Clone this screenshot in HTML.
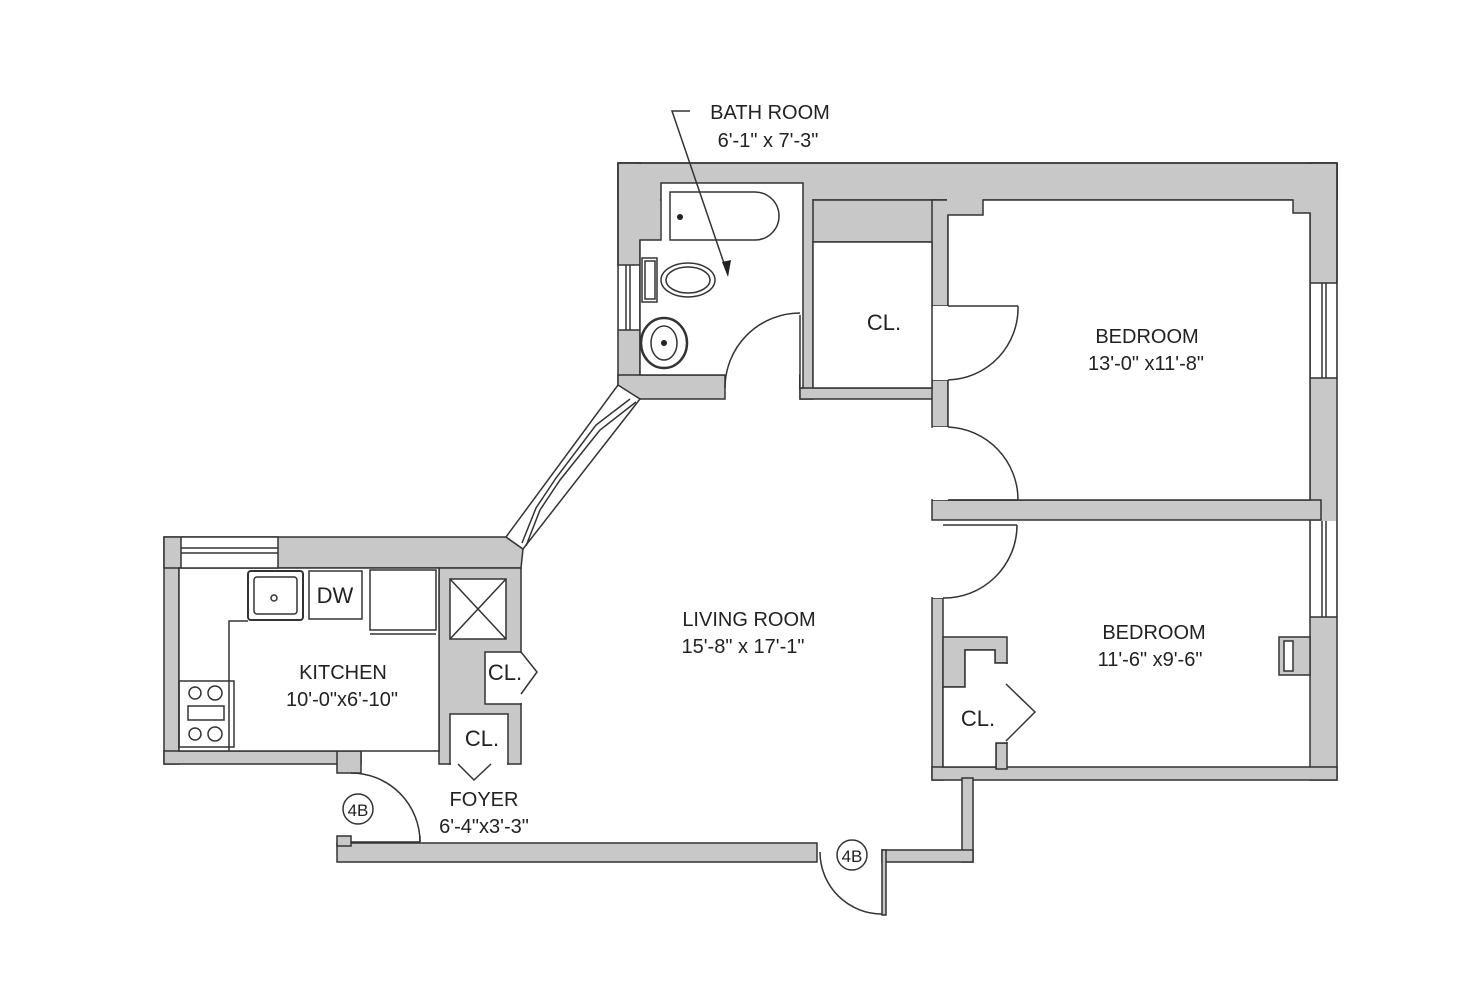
<!DOCTYPE html>
<html><head><meta charset="utf-8"><style>
html,body{margin:0;padding:0;background:#fff;}
svg{display:block;}
text{font-family:"Liberation Sans",Arial,sans-serif;fill:#222;}
</style></head><body>
<svg width="1457" height="1000" viewBox="0 0 1457 1000" xmlns="http://www.w3.org/2000/svg">
<g fill="#c8c8c8" stroke="#333" stroke-width="1.5">
<rect x="618" y="163" width="719" height="37"/>
<rect x="618" y="163" width="22" height="236"/>
<rect x="1310" y="163" width="27" height="617"/>
<rect x="618" y="375" width="107" height="24"/>
<rect x="800" y="200" width="148" height="42"/>
<rect x="800" y="183" width="13" height="216"/>
<rect x="800" y="388" width="148" height="11"/>
<rect x="932" y="200" width="16" height="106"/>
<rect x="932" y="380" width="16" height="47"/>
<rect x="932" y="500" width="389" height="20"/>
<rect x="932" y="598" width="11" height="182"/>
<rect x="932" y="767" width="405" height="13"/>
<rect x="962" y="778" width="11" height="84"/>
<rect x="882" y="850" width="91" height="12"/>
<rect x="882" y="850" width="4" height="65"/>
<rect x="337" y="843" width="480" height="19"/>
<rect x="337" y="836" width="14" height="10"/>
<rect x="164" y="537" width="15" height="227"/>
<polygon points="164,537 506,537 523,549 521,568 164,568"/>
<rect x="164" y="751" width="197" height="13"/>
<rect x="337" y="751" width="24" height="22"/>
<rect x="439" y="568" width="82" height="196"/>
<polygon points="943,637 1007,637 1007,663 995,663 995,650 965,650 965,687 943,687"/>
<rect x="996" y="743" width="11" height="26"/>
<rect x="1279" y="637" width="31" height="38"/>
</g>
<g fill="#c8c8c8" stroke="none">
<rect x="619" y="164" width="41" height="76"/>
<rect x="619" y="164" width="717" height="35"/>
<rect x="947" y="199" width="36" height="16"/>
<rect x="1293" y="199" width="18" height="14"/>
<rect x="1311" y="164" width="25" height="100"/>
</g>
<g fill="#fff" stroke="#333" stroke-width="1.5">
<polygon points="640,240 661,240 661,183 803,183 803,388 799,388 799,375 640,375"/>
<rect x="813" y="242" width="119" height="146"/>
<polygon points="948,215 983,215 983,200 1293,200 1293,213 1310,213 1310,500 948,500"/>
<rect x="179" y="568" width="260" height="183"/>
<rect x="181" y="537" width="97" height="31"/>
<rect x="450" y="579" width="56" height="60"/>
<rect x="485" y="652" width="36" height="52"/>
<rect x="450" y="714" width="58" height="50"/>
<polygon points="965,650 995,650 995,663 1007,663 1007,743 996,743 996,767 943,767 943,687 965,687"/>
<rect x="1284" y="641" width="9" height="30"/>
</g>
<g fill="#fff" stroke="none">
<rect x="996" y="664" width="13" height="78"/>
<rect x="486" y="653" width="37" height="50"/>
<rect x="451" y="740" width="56" height="26"/>
<rect x="933" y="306" width="16" height="74"/>
<rect x="933" y="427" width="16" height="73"/>
<rect x="933" y="521" width="11" height="77"/>
<rect x="726" y="374" width="73" height="26"/>
<rect x="818" y="842" width="63" height="22"/>
<rect x="1311" y="283" width="25" height="95"/>
<rect x="1311" y="521" width="25" height="96"/>
<rect x="619" y="265" width="20" height="65"/>
</g>
<g fill="none" stroke="#333" stroke-width="1.5">
<line x1="181" y1="548" x2="278" y2="548"/>
<line x1="181" y1="553" x2="278" y2="553"/>
<line x1="1322" y1="283" x2="1322" y2="378"/><line x1="1326" y1="283" x2="1326" y2="378"/>
<line x1="1310" y1="283" x2="1337" y2="283"/><line x1="1310" y1="378" x2="1337" y2="378"/>
<line x1="1322" y1="521" x2="1322" y2="617"/><line x1="1326" y1="521" x2="1326" y2="617"/>
<line x1="1310" y1="617" x2="1337" y2="617"/>
<line x1="626" y1="265" x2="626" y2="330"/><line x1="630" y1="265" x2="630" y2="330"/>
<line x1="618" y1="265" x2="640" y2="265"/><line x1="618" y1="330" x2="640" y2="330"/>
<line x1="618" y1="163" x2="1337" y2="163"/>
<line x1="618" y1="163" x2="618" y2="265"/>
<line x1="1337" y1="163" x2="1337" y2="283"/>
<polygon points="618,385 640,399 523,549 506,537" fill="#fff"/>
<polyline points="636,402 600,430 560,480 540,510 526,546"/>
<polyline points="630,399 596,425 556,478 536,508 522,543"/>
<line x1="948" y1="306" x2="1018" y2="306"/>
<path d="M1018,306 A72,72 0 0 1 948,380"/>
<line x1="948" y1="500" x2="1018" y2="500"/>
<path d="M948,427 A73,73 0 0 1 1018,500"/>
<line x1="943" y1="525" x2="1017" y2="525"/>
<path d="M1017,525 A73,73 0 0 1 943,598"/>
<line x1="800" y1="315" x2="800" y2="388"/>
<path d="M800,313 A75,75 0 0 0 725,388"/>
<line x1="351" y1="842" x2="420" y2="842"/>
<line x1="420" y1="836" x2="420" y2="842"/>
<path d="M351,773 A69,69 0 0 1 420,842"/>
<path d="M820,852 A62,62 0 0 0 882,914"/>
<polyline points="1006,684 1035,712 1006,741"/>
<polyline points="521,652 537,672 521,694"/>
<polyline points="458,764 474,780 491,764"/>
<line x1="450" y1="579" x2="506" y2="639"/><line x1="506" y1="579" x2="450" y2="639"/>
<path d="M670,192 H755 A24,24 0 0 1 755,240 H670 Z"/>
<rect x="642" y="258" width="15" height="44" fill="#fff"/>
<rect x="645" y="261" width="10" height="38"/>
<ellipse cx="688" cy="280" rx="27" ry="17"/>
<ellipse cx="688" cy="280" rx="22" ry="13"/>
<ellipse cx="664" cy="343" rx="23" ry="25" stroke-width="2.5"/>
<ellipse cx="664" cy="343" rx="13" ry="17"/>
<polyline points="229,751 229,621 248,621"/>
<rect x="248" y="571" width="55" height="49" rx="3" stroke-width="2"/>
<rect x="254" y="577" width="43" height="37" rx="3"/>
<circle cx="274" cy="598" r="3"/>
<rect x="309" y="571" width="53" height="48"/>
<rect x="370" y="570" width="66" height="60"/>
<line x1="370" y1="634" x2="436" y2="634"/>
<rect x="179" y="681" width="55" height="66"/>
<circle cx="195" cy="693" r="6"/><circle cx="215" cy="693" r="7"/>
<circle cx="195" cy="734" r="6"/><circle cx="215" cy="734" r="7"/>
<rect x="188" y="706" width="36" height="14"/>
<circle cx="358" cy="809" r="15"/>
<circle cx="852" cy="855" r="15"/>
<polyline points="690,111 672,111 728,275"/>
</g>
<circle cx="680" cy="217" r="3" fill="#222"/>
<circle cx="664" cy="343" r="3" fill="#222"/>
<polygon points="728,277 722,262 731,260" fill="#222"/>
<g font-size="20" text-anchor="middle">
<text x="770" y="119">BATH ROOM</text>
<text x="768" y="147">6'-1" x 7'-3"</text>
<text x="884" y="330" font-size="22">CL.</text>
<text x="1147" y="343">BEDROOM</text>
<text x="1146" y="370">13'-0" x11'-8"</text>
<text x="749" y="626">LIVING ROOM</text>
<text x="743" y="653">15'-8" x 17'-1"</text>
<text x="1154" y="639">BEDROOM</text>
<text x="1150" y="666">11'-6" x9'-6"</text>
<text x="343" y="679">KITCHEN</text>
<text x="342" y="706">10'-0"x6'-10"</text>
<text x="505" y="680" font-size="22">CL.</text>
<text x="482" y="746" font-size="22">CL.</text>
<text x="484" y="806">FOYER</text>
<text x="484" y="833">6'-4"x3'-3"</text>
<text x="978" y="726" font-size="22">CL.</text>
<text x="335" y="603" font-size="22">DW</text>
<text x="358" y="816" font-size="17">4B</text>
<text x="852" y="862" font-size="17">4B</text>
</g>
</svg>
</body></html>
